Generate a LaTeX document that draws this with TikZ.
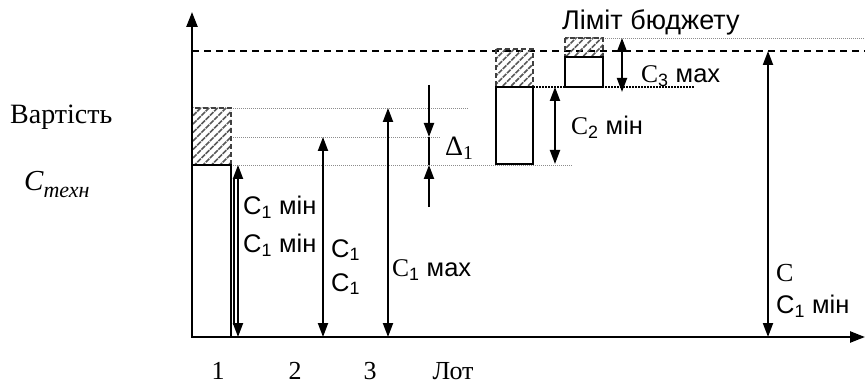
\documentclass[tikz,border=0pt]{standalone}
\usepackage{fontspec}
\setmainfont{Liberation Serif}
\setsansfont{Liberation Sans}
\usetikzlibrary{arrows.meta,patterns.meta}
\begin{document}
\begin{tikzpicture}[x=1pt,y=-1pt,
  axis/.style={line width=2.4pt,-{Triangle[length=15pt,width=11pt]}},
  dim/.style={line width=2pt,{Triangle[length=14pt,width=10pt]}-{Triangle[length=14pt,width=10pt]}},
  onearrow/.style={line width=2pt,-{Triangle[length=14pt,width=10pt]}},
  box/.style={draw,line width=1.8pt},
  hatch/.style={draw=black!75,dash pattern=on 5pt off 3pt,line width=1.4pt,
    pattern={Lines[angle=45,distance=6pt,line width=1.6pt]},pattern color=black!65},
  guide/.style={draw=black!45,line width=0.8pt,dash pattern=on 1pt off 1pt},
  darkguide/.style={draw=black,line width=1.2pt,dash pattern=on 1.5pt off 1.5pt},
  budget/.style={draw,line width=1.4pt,dash pattern=on 7pt off 5pt},
  lab/.style={font=\sffamily\fontsize{25.5}{28}\selectfont,inner sep=0pt,anchor=west},
  slab/.style={font=\rmfamily\fontsize{26}{30}\selectfont,inner sep=0pt},
]
\useasboundingbox (0,0) rectangle (865,385);

% coordinates
\coordinate (O) at (192,337);
\coordinate (ytop) at (192,12);
\coordinate (xend) at (865,337);

% guides
\coordinate (g1a) at (231,108); \coordinate (g1b) at (468,108);
\coordinate (g2a) at (231,137); \coordinate (g2b) at (440,137);
\coordinate (g3a) at (231,165); \coordinate (g3b) at (572,165);
\coordinate (g4a) at (533,87);  \coordinate (g4b) at (695,87);
\coordinate (g5a) at (603,38);  \coordinate (g5b) at (865,38);
\coordinate (b1) at (192,51);   \coordinate (b2) at (865,51);
\draw[guide] (g1a) -- (g1b);
\draw[guide] (g2a) -- (g2b);
\draw[guide] (g3a) -- (g3b);
\draw[darkguide] (g4a) -- (g4b);
\draw[guide] (g5a) -- (g5b);
\draw[budget] (b1) -- (b2);

% bars
\path[hatch] (192,108) rectangle (231,165);
\draw[box] (192,165) rectangle (231,337);
\path[hatch] (496,49) rectangle (533,87);
\draw[box] (496,87) rectangle (533,164);
\path[hatch] (565,38) rectangle (603,57);
\draw[box] (565,57) rectangle (603,87);

% axes
\draw[axis] (O) -- (ytop);
\draw[axis] (O) -- (xend);

% dimension arrows
\coordinate (a1t) at (234,178); \coordinate (a1b) at (234,325);
\draw[line width=1.1pt] (a1t) -- (a1b);
\coordinate (a1t') at (238,165);  \coordinate (a1b') at (238,337);
\draw[dim] (a1t') -- (a1b');
\coordinate (a2t) at (323,137); \coordinate (a2b) at (323,337);
\draw[dim] (a2t) -- (a2b);
\coordinate (a3t) at (388,108); \coordinate (a3b) at (388,337);
\draw[dim] (a3t) -- (a3b);
\coordinate (d0) at (429,85); \coordinate (d1) at (429,137);
\coordinate (d2) at (429,165); \coordinate (d3) at (429,207);
\draw[onearrow] (d0) -- (d1);
\draw[onearrow] (d3) -- (d2);
\draw[line width=1.2pt] (d1) -- (d2);
\coordinate (c2t) at (555,87); \coordinate (c2b) at (555,164);
\draw[dim] (c2t) -- (c2b);
\coordinate (c3t) at (622,38); \coordinate (c3b) at (622,92);
\draw[dim] (c3t) -- (c3b);
\coordinate (ct) at (768,51); \coordinate (cb) at (768,337);
\draw[dim] (ct) -- (cb);

% labels
\node[lab] (l1) at (243,207) {C\textsubscript{1} мін};
\node[lab] (l2) at (243,245) {C\textsubscript{1} мін};
\node[lab] (l3) at (331,250) {C\textsubscript{1}};
\node[lab] (l4) at (331,284) {C\textsubscript{1}};
\node[lab] (l5) at (392,270) {{\rmfamily C}\textsubscript{1} мах};
\node[slab,anchor=west,font=\rmfamily\fontsize{28}{30}\selectfont] (ld) at (445,148) {Δ\textsubscript{1}};
\node[lab] (l6) at (571,127) {{\rmfamily C}\textsubscript{2} мін};
\node[lab] (l7) at (641,76) {{\rmfamily C}\textsubscript{3} мах};
\node[lab,font=\sffamily\fontsize{27}{30}\selectfont] (l8) at (562,22) {Ліміт бюджету};
\node[slab,anchor=west] (l9) at (776,273) {C};
\node[lab] (l10) at (776,306) {C\textsubscript{1} мін};
\node[slab,anchor=west,font=\rmfamily\fontsize{28}{30}\selectfont] (yl) at (10,117) {Вартість};
\node[slab,anchor=west,font=\rmfamily\itshape\fontsize{29}{32}\selectfont] (ct2) at (24,185)
  {C\raisebox{-7pt}{\fontsize{22}{24}\selectfont техн}};
\node[slab,anchor=base] (x1) at (218,379) {1};
\node[slab,anchor=base] (x2) at (295,379) {2};
\node[slab,anchor=base] (x3) at (370,379) {3};
\node[slab,anchor=base] (x4) at (453,379) {Лот};
\end{tikzpicture}
\end{document}
